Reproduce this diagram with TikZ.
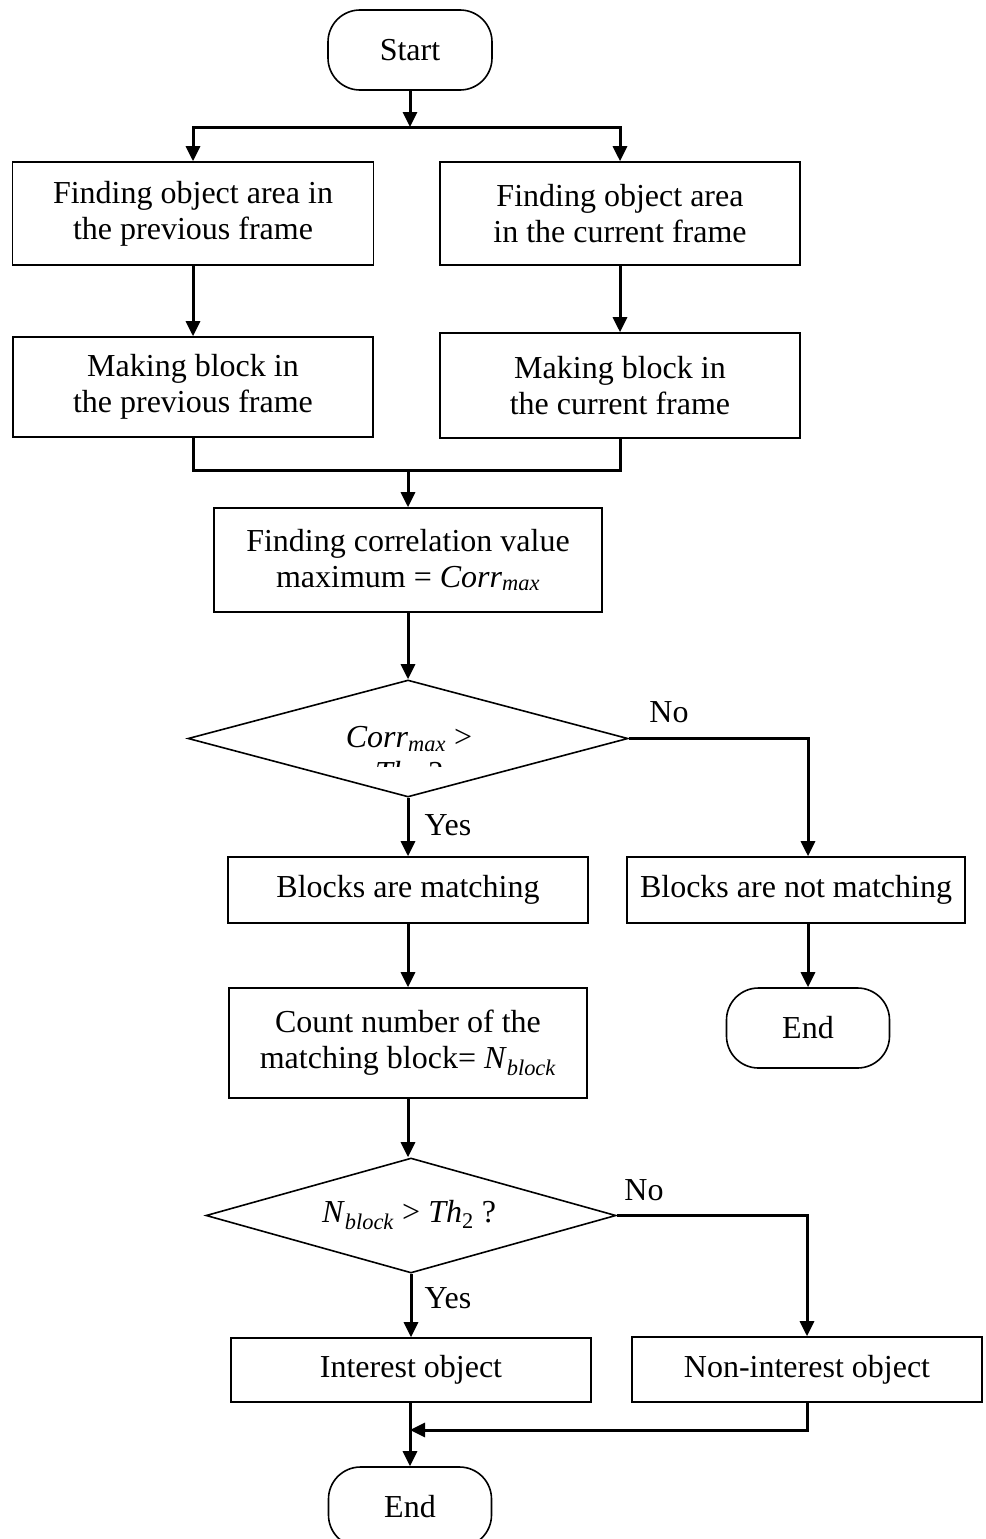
\documentclass[tikz,border=0pt]{standalone}
\usepackage{fontspec}
\setmainfont{Liberation Serif}
\usetikzlibrary{arrows.meta,shapes.geometric}
\tikzset{
  txt/.style={font=\fontsize{32}{36}\selectfont, align=center, inner sep=0pt},
  box/.style={txt, draw, line width=1.6pt},
  term/.style={txt, draw, line width=1.6pt, rounded corners=32pt},
  dia/.style={draw, line width=1.6pt, diamond, inner sep=0pt},
  conn/.style={line width=3pt},
  arr/.style={line width=3pt, -{Triangle[length=15pt,width=14pt]}},
}
\begin{document}
\begin{tikzpicture}[x=1pt,y=-1pt]
\useasboundingbox (0,0) rectangle (985,1539);
\clip (0,0) rectangle (985,1539);
\fill[white] (0,0) rectangle (985,1539);

% nodes
\node[term, minimum width=164pt, minimum height=80pt] (start) at (410,50) {Start};
\node[box, minimum width=361pt, minimum height=103pt] (l1) at (193,213.5) {Finding object area in\\the previous frame};
\node[box, minimum width=360pt, minimum height=103pt] (r1) at (620,213.5) {Finding object area\\in the current frame};
\node[box, minimum width=360pt, minimum height=100pt] (l2) at (193,387) {Making block in\\the previous frame};
\node[box, minimum width=360pt, minimum height=105pt] (r2) at (620,385.5) {Making block in\\the current frame};
\node[box, minimum width=388pt, minimum height=104pt] (corr) at (408,560) {Finding correlation value\\maximum = \textit{Corr}\textsubscript{\textit{max}}};
\node[dia, minimum width=440pt, minimum height=117pt] (d1) at (408,738.5) {};
\begin{scope}
\clip (180,690) rectangle (640,766);
\node[txt] (d1t) at (409,758) {\textit{Corr}\textsubscript{\textit{max}} >\\\textit{Th}\textsubscript{1} ?};
\end{scope}
\node[box, minimum width=360pt, minimum height=66pt] (match) at (408,890) {Blocks are matching};
\node[box, minimum width=338pt, minimum height=66pt] (nomatch) at (796,890) {Blocks are not matching};
\node[term, minimum width=163pt, minimum height=80pt] (end1) at (808,1028) {End};
\node[box, minimum width=358pt, minimum height=110pt] (count) at (408,1043) {Count number of the\\matching block= \textit{N}\textsubscript{\textit{block}}};
\node[dia, minimum width=410pt, minimum height=115pt] (d2) at (411,1215.5) {};
\node[txt] (d2t) at (409,1215) {\textit{N}\textsubscript{\textit{block}} > \textit{Th}\textsubscript{2} ?};
\node[box, minimum width=360pt, minimum height=64pt] (interest) at (411,1370) {Interest object};
\node[box, minimum width=350pt, minimum height=65pt] (nonint) at (807,1369.5) {Non-interest object};
\node[term, minimum width=163pt, minimum height=80pt] (end2) at (410,1507) {End};

% labels
\node[txt] (no1) at (669,712) {No};
\node[txt] (yes1) at (448,825) {Yes};
\node[txt] (no2) at (644,1190) {No};
\node[txt] (yes2) at (448,1298) {Yes};

% coordinates
\coordinate (split) at (410,127);
\coordinate (merge) at (408,470);
\coordinate (join) at (410,1430);

% connectors
\draw[arr] (start.south) -- (split);
\draw[arr] (split) -| (l1.north);
\draw[arr] (split) -| (r1.north);
\draw[arr] (l1.south) -- (l2.north);
\draw[arr] (r1.south) -- (r2.north);
\draw[conn] (l2.south) |- (merge) -| (r2.south);
\draw[arr] (merge) -- (corr.north);
\draw[arr] (corr.south) -- (d1.north);
\draw[arr] (d1.east) -| (end1.north |- nomatch.north);
\draw[arr] (d1.south) -- (match.north);
\draw[arr] (end1.north |- nomatch.south) -- (end1.north);
\draw[arr] (match.south) -- (count.north);
\draw[arr] (count.south) -- (count.south |- d2.north);
\draw[arr] (d2.east) -| (nonint.north);
\draw[arr] (d2.south) -- (interest.north);
\draw[arr] (nonint.south) |- (join);
\draw[arr] (interest.south -| join) -- (end2.north);
\end{tikzpicture}
\end{document}
